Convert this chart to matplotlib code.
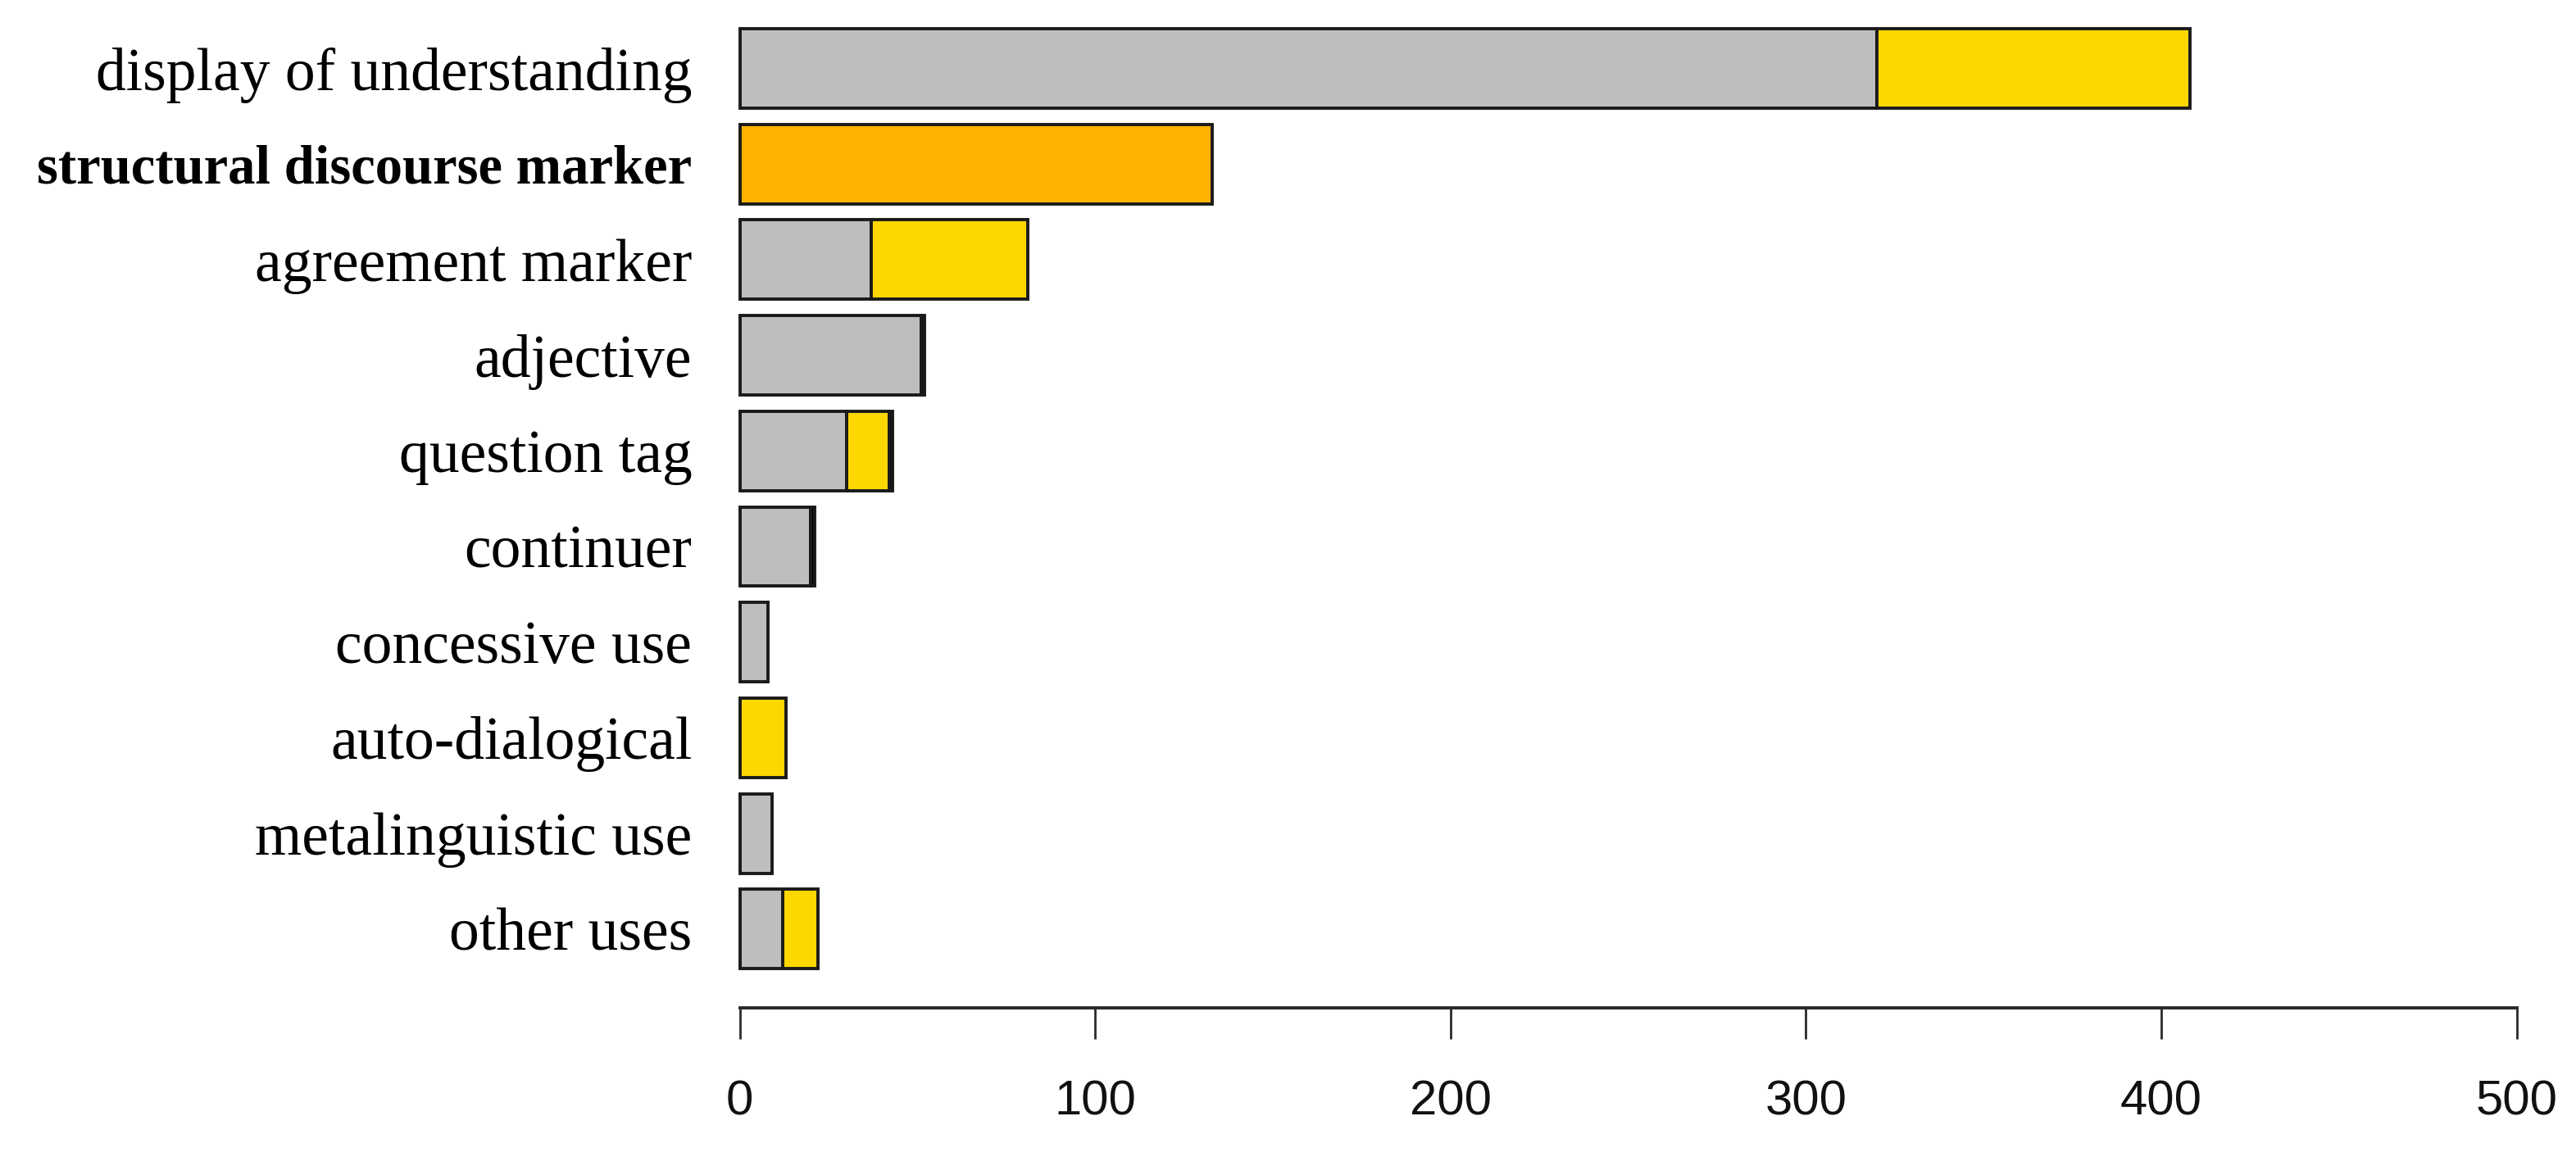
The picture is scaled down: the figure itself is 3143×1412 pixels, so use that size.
import numpy as np
import matplotlib
matplotlib.use("Agg")
import matplotlib.pyplot as plt

labels = ["display of understanding", "structural discourse marker", "agreement marker",
          "adjective", "question tag", "continuer", "concessive use",
          "auto-dialogical", "metalinguistic use", "other uses"]
grey_vals = [320, 0, 37, 51, 30, 20, 8, 0, 9, 12]
orange_vals = [0, 133, 0, 0, 0, 0, 0, 0, 0, 0]
yellow_vals = [88, 0, 44, 0, 12, 0, 0, 13, 0, 10]
black_vals = [0, 0, 0, 1, 1, 1, 0, 0, 0, 0]
xticks = [0, 100, 200, 300, 400, 500]

fig = plt.figure(figsize=(31.43, 14.12), dpi=100)
ax = fig.add_axes([0.2872, 0.1289, 0.6898, 0.8711])

y = np.arange(len(labels))
h = 0.83
kw = dict(height=h, edgecolor="#1a1a1a", linewidth=2.8, clip_on=False)
left = np.zeros(len(labels))
for vals, col in [(grey_vals, "#BEBEBE"), (orange_vals, "#FFB300"),
                  (yellow_vals, "#FFD700"), (black_vals, "#000000")]:
    v = np.array(vals, dtype=float)
    m = v > 0
    ax.barh(y[m], v[m], left=left[m], color=col, **kw)
    left += v

ax.set_xlim(0, 500)
ax.set_ylim(9.824, -0.7155)
for s in ["top", "right", "left"]:
    ax.spines[s].set_visible(False)
ax.spines["bottom"].set_linewidth(2.8)
ax.spines["bottom"].set_color("#2a2a2a")
ax.set_xticks(xticks)
ax.set_xticklabels([str(t) for t in xticks], family="Liberation Sans", fontsize=43, color="#111111")
ax.tick_params(axis="x", length=27, width=2, pad=36, color="#2a2a2a")
ax.set_yticks(y)
ax.set_yticklabels(labels, family="Liberation Serif", fontsize=53)
ax.tick_params(axis="y", length=0, pad=42)
ax.get_yticklabels()[1].set_fontweight("bold")
ax.get_yticklabels()[1].set_fontsize(48)

fig.savefig("out.png", dpi=100)
